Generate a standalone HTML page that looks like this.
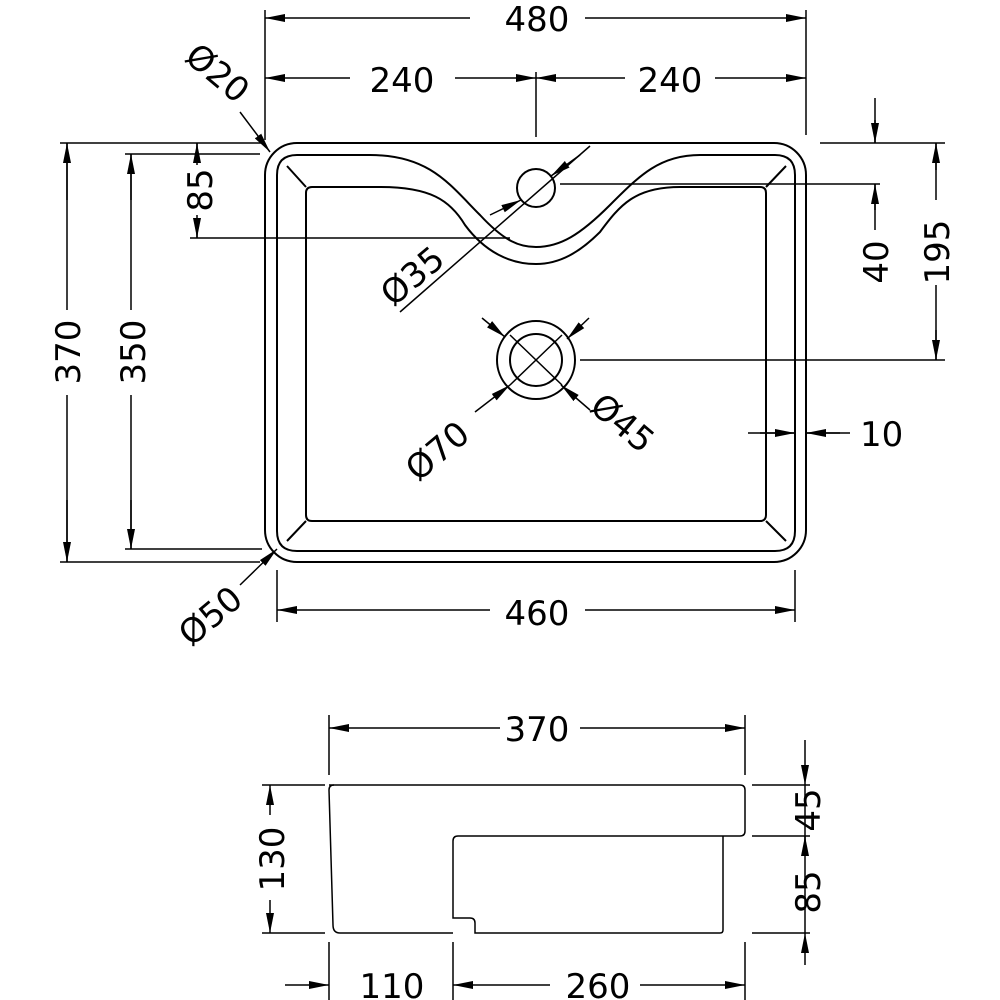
<!DOCTYPE html>
<html><head><style>body{margin:0;background:#fff}svg{display:block}text{font-family:"DejaVu Sans","Liberation Sans",sans-serif;font-size:34px;fill:#000}</style></head><body>
<svg width="1000" height="1000" viewBox="0 0 1000 1000" xmlns="http://www.w3.org/2000/svg">
<defs>
<marker id="b" viewBox="0 0 20 10" refX="20" refY="5" markerWidth="20" markerHeight="10" markerUnits="userSpaceOnUse" orient="auto-start-reverse"><path d="M0,1 L20,5 L0,9z" fill="#000"/></marker></defs>
<g fill="none" stroke="#000" stroke-width="2">
<rect x="265" y="143" width="541" height="419" rx="32"/>
<path d="M300,155 L370,155 C430,155 450,185 480,215 C505,242 520,247 536,247 C560,247 580,235 610,205 C640,175 660,155 700,155 L775,155 Q795,155 795,175 L795,531 Q795,551 775,551 L297,551 Q277,551 277,531 L277,175 Q277,155 297,155 Z"/>
<path d="M312,187 L380,187 C430,187 450,200 465,225 C485,252 510,264 536,264 C560,264 580,252 600,232 C620,205 635,187 680,187 L760,187 Q766,187 766,193 L766,515 Q766,521 760,521 L312,521 Q306,521 306,515 L306,193 Q306,187 312,187 Z"/>
<path d="M287,166 L306,187 M786,166 L766,187 M287,541 L306,521 M786,541 L766,521"/>
<circle cx="536" cy="188" r="19"/>
<circle cx="536" cy="360" r="39"/><circle cx="536" cy="360" r="26"/>
</g>
<g fill="none" stroke="#000" stroke-width="1.5">
<path d="M265,10V140 M806,10V135 M536,72V137 M60,143H265 M125,154H260 M190,238H510 M560,184H880 M580,360H945 M60,562H260 M125,549H262 M820,143H945 M277,570V622 M795,570V622"/>
<path d="M265,18H470" marker-start="url(#b)"/><path d="M585,18H806" marker-end="url(#b)"/>
<path d="M265,78H350" marker-start="url(#b)"/><path d="M455,78H536" marker-end="url(#b)"/><path d="M536,78H625" marker-start="url(#b)"/><path d="M715,78H806" marker-end="url(#b)"/>
<path d="M277,610H490" marker-start="url(#b)"/><path d="M585,610H795" marker-end="url(#b)"/>
<path d="M67,143V310 M67,395V562"/><path d="M67,200V143" marker-end="url(#b)"/><path d="M67,500V562" marker-end="url(#b)"/>
<path d="M131,154V310 M131,395V549"/><path d="M131,200V154" marker-end="url(#b)"/><path d="M131,500V549" marker-end="url(#b)"/>
<path d="M197,143V165 M197,215V238"/><path d="M197,160V143" marker-end="url(#b)"/><path d="M197,220V238" marker-end="url(#b)"/>
<path d="M875,98V143 M875,184V230"/><path d="M875,120V143" marker-end="url(#b)"/><path d="M875,210V184" marker-end="url(#b)"/>
<path d="M936,143V200 M936,285V360"/><path d="M936,170V143" marker-end="url(#b)"/><path d="M936,330V360" marker-end="url(#b)"/>
<path d="M748,433H795 M806,433H850"/><path d="M760,433H795" marker-end="url(#b)"/><path d="M840,433H806" marker-end="url(#b)"/>
<path d="M240,112L270,152" marker-end="url(#b)"/>
<path d="M240,585L277,549" marker-end="url(#b)"/>
<path d="M590,146L400,312"/><path d="M580,155L551,176" marker-end="url(#b)"/><path d="M490,215L521,200" marker-end="url(#b)"/>
<path d="M589,318L567,339" marker-end="url(#b)"/><path d="M482,318L505,337" marker-end="url(#b)"/>
<path d="M510,335L562,385 M562,335L510,385"/>
<path d="M475,412L510,385" marker-end="url(#b)"/><path d="M590,410L561,385" marker-end="url(#b)"/>
<path d="M329,785 L740,785 Q745,785 745,790 L745,831 Q745,836 740,836 L458,836 Q453,836 453,841 L453,918 L470,918 Q475,918 475,923 L475,933 L720,933 Q723,933 723,930 L723,836"/>
<path d="M453,933 L340,933 Q333,933 333,925 L329,790 Q329,785 334,785" />
<path d="M329,715V775 M745,715V775 M262,785H325 M752,785H810 M752,836H810 M262,933H325 M752,933H810 M329,942V1000 M453,942V1000 M745,942V1000"/>
<path d="M329,728H500" marker-start="url(#b)"/><path d="M580,728H745" marker-end="url(#b)"/>
<path d="M270,785V815" marker-start="url(#b)"/><path d="M270,900V933" marker-end="url(#b)"/>
<path d="M805,740V785" marker-end="url(#b)"/><path d="M805,850V836" marker-end="url(#b)"/><path d="M805,836V785"/>
<path d="M805,965V933" marker-end="url(#b)"/><path d="M805,836V933"/>
<path d="M285,985H329" marker-end="url(#b)"/><path d="M453,985H550" marker-start="url(#b)"/><path d="M640,985H745" marker-end="url(#b)"/>
</g>
<g>
<text x="537" y="31" text-anchor="middle">480</text>
<text x="402" y="92" text-anchor="middle">240</text>
<text x="670" y="92" text-anchor="middle">240</text>
<text x="537" y="625" text-anchor="middle">460</text>
<text x="860" y="446">10</text>
<text transform="translate(80,352) rotate(-90)" text-anchor="middle">370</text>
<text transform="translate(145,352) rotate(-90)" text-anchor="middle">350</text>
<text transform="translate(212,190) rotate(-90)" text-anchor="middle">85</text>
<text transform="translate(888,262) rotate(-90)" text-anchor="middle">40</text>
<text transform="translate(949,252) rotate(-90)" text-anchor="middle">195</text>
<text transform="translate(210,82) rotate(40)" text-anchor="middle">Ø20</text>
<text transform="translate(218,625) rotate(-40)" text-anchor="middle">Ø50</text>
<text transform="translate(420,285) rotate(-40)" text-anchor="middle">Ø35</text>
<text transform="translate(445,460) rotate(-40)" text-anchor="middle">Ø70</text>
<text transform="translate(615,432) rotate(40)" text-anchor="middle">Ø45</text>
<text x="537" y="741" text-anchor="middle">370</text>
<text transform="translate(284,859) rotate(-90)" text-anchor="middle">130</text>
<text transform="translate(820,810) rotate(-90)" text-anchor="middle">45</text>
<text transform="translate(820,892) rotate(-90)" text-anchor="middle">85</text>
<text x="392" y="998" text-anchor="middle">110</text>
<text x="598" y="998" text-anchor="middle">260</text>
</g>
</svg>
</body></html>
